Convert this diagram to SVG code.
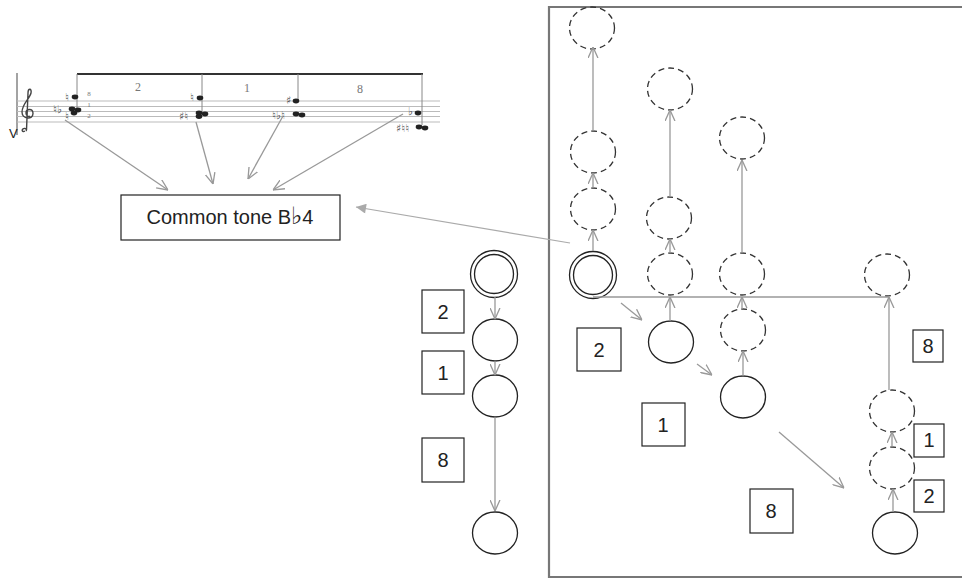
<svg xmlns="http://www.w3.org/2000/svg" width="962" height="578" viewBox="0 0 962 578">
<defs>
<marker id="v" viewBox="0 0 10 10" refX="10" refY="5" markerWidth="11" markerHeight="11" markerUnits="userSpaceOnUse" orient="auto"><path d="M0,0.5 L10,5 L0,9.5" fill="none" stroke="#999" stroke-width="1.2"/></marker>
<marker id="tri" viewBox="0 0 10 10" refX="10" refY="5" markerWidth="14" markerHeight="10" markerUnits="userSpaceOnUse" orient="auto"><path d="M0,0 L10,5 L0,10 Z" fill="#aaa"/></marker>
</defs>
<style>
.c{stroke:#999;stroke-width:1.3;fill:none;marker-end:url(#v)}
.s{fill:#fff;stroke:#222;stroke-width:1.3}
.d{fill:none;stroke:#333;stroke-width:1.3;stroke-dasharray:6 4}
.b{fill:#fff;stroke:#222;stroke-width:1.2}
.t{font-family:"Liberation Sans",Arial,sans-serif;font-size:20px;fill:#222;text-anchor:middle}
.st{stroke:#bbb;stroke-width:1}
.n{fill:#222}
.acc{font-family:"DejaVu Sans",sans-serif;font-size:11px;fill:#555}
.num{font-family:"Liberation Serif",serif;font-size:12px;fill:#777;text-anchor:middle}
.fig{font-family:"Liberation Serif",serif;font-size:7px;fill:#777;text-anchor:middle}
</style>
<rect width="962" height="578" fill="#fff"/>

<g id="score">
<path d="M17,73 V135" stroke="#666" stroke-width="1.2"/>
<path class="st" d="M17,101 H440 M17,106.5 H440 M17,111.5 H440 M17,116.5 H440 M17,122 H440"/>
<path d="M77,74 H423" stroke="#333" stroke-width="2"/>
<path d="M77,74 V110 M202,74 V113 M298,74 V100 M422,74 V125" stroke="#888" stroke-width="1"/>
<text class="num" x="138" y="91">2</text>
<text class="num" x="247" y="92">1</text>
<text class="num" x="360" y="93">8</text>
<text x="9" y="138" font-family="Liberation Sans,Arial,sans-serif" font-size="13" fill="#222">V</text>
<path d="M25,131 C22,133 21,129 24,128.5 C26,128 27,130 26,131 M26.5,130 L28,93 C28,88 32,88 31,93 C30,98 22,104 22,112 C22,119.5 33,120 33,113.5 C33,108 26,108.5 26,113 C26,116 28.5,117 30,116" fill="none" stroke="#444" stroke-width="1.4"/>
<g>
<ellipse class="n" cx="75" cy="97" rx="3.3" ry="2.4"/>
<ellipse class="n" cx="72" cy="109" rx="3.3" ry="2.4"/>
<ellipse class="n" cx="78" cy="110" rx="3.3" ry="2.4"/>
<ellipse class="n" cx="74" cy="113" rx="3.3" ry="2.4"/>
<text class="acc" x="65" y="101">♮</text>
<text class="acc" x="53" y="113">♮♭</text>
<text class="acc" x="65" y="120">♮</text>
<text class="fig" x="89" y="96">8</text>
<text class="fig" x="89" y="107">1</text>
<text class="fig" x="89" y="118">2</text>
</g>
<g>
<ellipse class="n" cx="200" cy="98" rx="3.3" ry="2.4"/>
<ellipse class="n" cx="199" cy="113" rx="3.3" ry="2.4"/>
<ellipse class="n" cx="205" cy="114" rx="3.3" ry="2.4"/>
<ellipse class="n" cx="199" cy="116.5" rx="3.3" ry="2.4"/>
<text class="acc" x="190" y="101">♮</text>
<text class="acc" x="179" y="120">♯♮</text>
</g>
<g>
<ellipse class="n" cx="296" cy="101" rx="3.3" ry="2.4"/>
<ellipse class="n" cx="296" cy="114" rx="3.3" ry="2.4"/>
<ellipse class="n" cx="302" cy="115" rx="3.3" ry="2.4"/>
<text class="acc" x="286" y="104">♯</text>
<text class="acc" x="272" y="119">♮♭♮</text>
</g>
<g>
<ellipse class="n" cx="418" cy="113" rx="3.3" ry="2.4"/>
<ellipse class="n" cx="419" cy="127" rx="3.3" ry="2.4"/>
<ellipse class="n" cx="425" cy="128" rx="3.3" ry="2.4"/>
<text class="acc" x="408" y="115">♭</text>
<text class="acc" x="396" y="132">♯♮♮</text>
</g>
</g>

<g id="common-tone">
<rect class="b" x="121" y="195" width="219" height="45"/>
<text class="t" x="230" y="224" font-size="21">Common tone B<tspan font-family="DejaVu Sans,sans-serif" font-size="24">♭</tspan>4</text>
</g>

<g id="frame">
<path d="M962,7 H549 V577 H962" fill="none" stroke="#777" stroke-width="2.2"/>
</g>

<g id="left-graph">
<g id="L0"><circle class="s" cx="494" cy="274" r="23.5"/><circle class="s" cx="494" cy="274" r="19.5"/></g>
<g id="L1"><ellipse class="s" cx="495" cy="340" rx="22.5" ry="21"/></g>
<g id="L2"><ellipse class="s" cx="495" cy="396" rx="22.5" ry="21"/></g>
<g id="L3"><ellipse class="s" cx="495" cy="533" rx="22.5" ry="21"/></g>
<g id="Lb2"><rect class="b" x="422" y="290" width="42" height="43"/><text class="t" x="443" y="319">2</text></g>
<g id="Lb1"><rect class="b" x="422" y="351" width="42" height="43"/><text class="t" x="443" y="380">1</text></g>
<g id="Lb8"><rect class="b" x="422" y="438" width="42" height="44"/><text class="t" x="443" y="467">8</text></g>
</g>

<g id="right-graph">
<g id="R0"><circle class="s" cx="593" cy="275" r="23.5"/><circle class="s" cx="593" cy="275" r="19.5"/></g>
<g id="A1"><ellipse class="d" cx="593" cy="209" rx="22.5" ry="21"/></g>
<g id="A2"><ellipse class="d" cx="593" cy="152" rx="22.5" ry="21"/></g>
<g id="A3"><ellipse class="d" cx="592" cy="28" rx="22.5" ry="21"/></g>
<g id="B0"><ellipse class="s" cx="671" cy="342" rx="22.5" ry="21"/></g>
<g id="B1"><ellipse class="d" cx="670" cy="274" rx="22.5" ry="21"/></g>
<g id="B2"><ellipse class="d" cx="669" cy="218" rx="22.5" ry="21"/></g>
<g id="B3"><ellipse class="d" cx="670" cy="89" rx="22.5" ry="21"/></g>
<g id="C0"><ellipse class="s" cx="743" cy="397" rx="22.5" ry="21"/></g>
<g id="C1"><ellipse class="d" cx="743" cy="330" rx="22.5" ry="21"/></g>
<g id="C2"><ellipse class="d" cx="742" cy="274" rx="22.5" ry="21"/></g>
<g id="C3"><ellipse class="d" cx="742" cy="138" rx="22.5" ry="21"/></g>
<g id="D0"><ellipse class="s" cx="895" cy="533" rx="22.5" ry="21"/></g>
<g id="D1"><ellipse class="d" cx="892" cy="468" rx="22.5" ry="21"/></g>
<g id="D2"><ellipse class="d" cx="892" cy="411" rx="22.5" ry="21"/></g>
<g id="D3"><ellipse class="d" cx="887" cy="275" rx="22.5" ry="21"/></g>
<g id="Rb2"><rect class="b" x="577" y="328" width="44" height="43"/><text class="t" x="599" y="357">2</text></g>
<g id="Rb1"><rect class="b" x="642" y="403" width="43" height="43"/><text class="t" x="663" y="432">1</text></g>
<g id="Rb8"><rect class="b" x="750" y="489" width="43" height="44"/><text class="t" x="771" y="518">8</text></g>
<g id="Rb8b"><rect class="b" x="913" y="330" width="30" height="32"/><text class="t" x="928" y="353" font-size="17">8</text></g>
<g id="Rb1b"><rect class="b" x="914" y="424" width="30" height="33"/><text class="t" x="929" y="447" font-size="17">1</text></g>
<g id="Rb2b"><rect class="b" x="914" y="480" width="30" height="32"/><text class="t" x="929" y="503" font-size="17">2</text></g>
</g>

<g id="connectors">
<path class="c" d="M65,120 L168,190"/>
<path class="c" d="M196,122 L213,184"/>
<path class="c" d="M283,116 L248,179"/>
<path class="c" d="M403,114 L273,190"/>
<path d="M570,243 L356,207" stroke="#aaa" stroke-width="1.2" fill="none" marker-end="url(#tri)"/>
<path class="c" d="M495,297 V319"/>
<path class="c" d="M495,361 V375"/>
<path class="c" d="M495,417 V511"/>
<path d="M593,297 H889" stroke="#999" stroke-width="1.3" fill="none"/>
<path class="c" d="M593,251 V230"/>
<path class="c" d="M593,188 V173"/>
<path class="c" d="M593,131 V47"/>
<path class="c" d="M670,321 V297"/>
<path class="c" d="M670,253 V239"/>
<path class="c" d="M670,197 V110"/>
<path class="c" d="M743,376 V351"/>
<path class="c" d="M742,309 V297"/>
<path class="c" d="M742,253 V160"/>
<path class="c" d="M889,390 V297"/>
<path class="c" d="M893,512 V489"/>
<path class="c" d="M892,447 V432"/>
<path class="c" d="M621,303 L642,320"/>
<path class="c" d="M697,364 L712,375"/>
<path class="c" d="M779,432 L844,488"/>
</g>
</svg>
